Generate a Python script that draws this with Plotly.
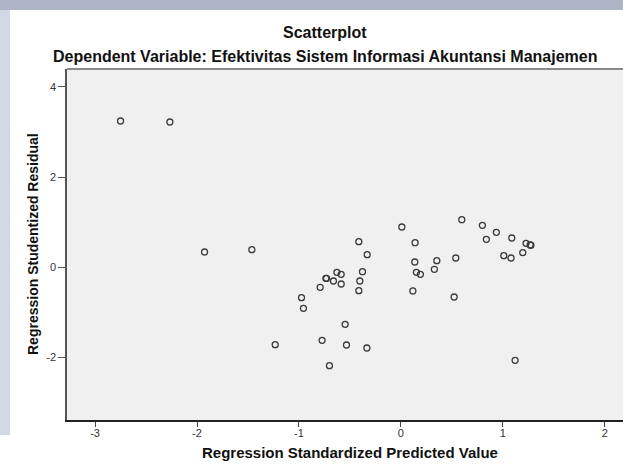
import plotly.graph_objects as go

predicted = [-2.750, -2.266, -1.926, -1.462, -1.233,
             0.597, 0.799, 0.936, 0.838, 1.087, 1.227, 1.267, 1.275, 1.195, 1.009, 1.080,
             0.538, 0.009, 0.139, -0.413, -0.331, 0.136, 0.352, 0.328, 0.152, 0.191,
             0.117, 0.522, -0.377, -0.403, -0.413, -0.628, -0.586, -0.736, -0.730,
             -0.662, -0.586, -0.792, -0.975, -0.956, -0.547, -0.773, -0.534, -0.334,
             -0.701, 1.120]
residual = [3.244, 3.222, 0.339, 0.390, -1.716,
            1.055, 0.931, 0.776, 0.621, 0.650, 0.532, 0.494, 0.490, 0.324, 0.257, 0.206,
            0.206, 0.894, 0.545, 0.568, 0.279, 0.118, 0.146, -0.044, -0.111, -0.155,
            -0.525, -0.659, -0.098, -0.304, -0.519, -0.111, -0.155, -0.244, -0.247,
            -0.304, -0.370, -0.443, -0.674, -0.909, -1.264, -1.619, -1.723, -1.789,
            -2.182, -2.062]

x_ticks = [-3, -2, -1, 0, 1, 2]
y_ticks = [-2, 0, 2, 4]

title_text = "Scatterplot"
subtitle_text = "Dependent Variable: Efektivitas Sistem Informasi Akuntansi Manajemen"
x_title = "Regression Standardized Predicted Value"
y_title = "Regression Studentized Residual"

FONT = "Arial, Liberation Sans, sans-serif"

W, H = 623, 464
L, R, T, B = 67, 0, 69, 44
PW, PH = W - L - R, H - T - B


def px(xp):
    return (xp - L) / PW


def py(yp):
    return (H - B - yp) / PH


fig = go.Figure()
fig.add_trace(go.Scatter(
    x=predicted, y=residual, mode="markers",
    marker=dict(symbol="circle-open", size=6, color="#3a3a3a", line=dict(width=1.3, color="#3a3a3a")),
    showlegend=False, hoverinfo="x+y"))

fig.update_layout(
    width=W, height=H,
    margin=dict(l=L, r=R, t=T, b=B, autoexpand=False),
    paper_bgcolor="white", plot_bgcolor="#f0f0f0",
    font=dict(family=FONT, color="#333333"),
    xaxis=dict(range=[-3.275, 2.178], tickvals=x_ticks, ticktext=[str(v) for v in x_ticks],
               automargin=False,
               showgrid=False, zeroline=False, showline=True, linecolor="#222222", linewidth=1.5,
               ticks="outside", ticklen=5, tickwidth=1.2, tickcolor="#444444",
               ticklabelstandoff=-3,
               tickfont=dict(size=11, color="#333333", family=FONT)),
    yaxis=dict(range=[-3.386, 4.397], tickvals=y_ticks, ticktext=[str(v) for v in y_ticks],
               automargin=False,
               showgrid=False, zeroline=False, showline=True, linecolor="#555555", linewidth=1.5,
               ticks="outside", ticklen=7, tickwidth=1.2, tickcolor="#555555",
               tickfont=dict(size=11, color="#333333", family=FONT)),
    shapes=[
        # decorative background strips of the slide
        dict(type="rect", xref="paper", yref="paper", x0=px(0), x1=px(W),
             y0=py(10), y1=py(0),
             fillcolor="#aeb3c6", line=dict(width=0), layer="below"),
        dict(type="rect", xref="paper", yref="paper", x0=px(0), x1=px(10),
             y0=py(435), y1=py(10),
             fillcolor="#d3d8e6", line=dict(width=0), layer="below"),
        # top border of the plot frame
        dict(type="line", xref="paper", yref="paper", x0=0, x1=1, y0=1, y1=1,
             line=dict(color="#8a8a8a", width=2)),
    ],
    annotations=[
        dict(text="<b>%s</b>" % title_text, xref="paper", yref="paper", showarrow=False,
             x=px(325), y=py(33), xanchor="center", yanchor="middle",
             font=dict(size=16, color="#111111", family=FONT)),
        dict(text="<b>%s</b>" % subtitle_text, xref="paper", yref="paper", showarrow=False,
             x=px(325), y=py(57), xanchor="center", yanchor="middle",
             font=dict(size=16, color="#111111", family=FONT)),
        dict(text="<b>%s</b>" % x_title, xref="paper", yref="paper", showarrow=False,
             x=px(350), y=py(452), xanchor="center", yanchor="middle",
             font=dict(size=15, color="#111111", family=FONT)),
        dict(text="<b>%s</b>" % y_title, xref="paper", yref="paper", showarrow=False, textangle=-90,
             x=px(33), y=py(244), xanchor="center", yanchor="middle",
             font=dict(size=14, color="#111111", family=FONT)),
    ],
)

fig.write_html("out.html", config={"displayModeBar": False},
               post_script="document.body.style.margin='0px';document.body.style.overflow='hidden';")
